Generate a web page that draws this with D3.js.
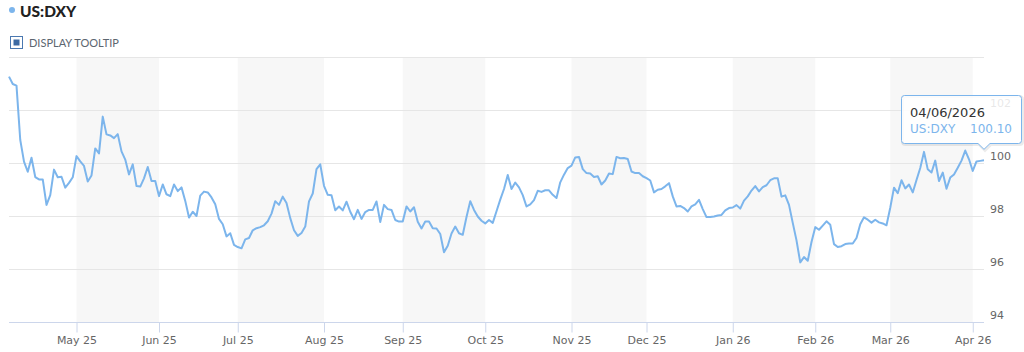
<!DOCTYPE html>
<html>
<head>
<meta charset="utf-8">
<script src="https://cdn.jsdelivr.net/npm/d3@7"></script>
<style>
  body { margin: 0; background: #fff; }
  svg { display: block; }
</style>
</head>
<body>
<svg id="chart" width="1024" height="352"></svg>
<script>
// daily closes, one array per month (weekdays from 7 Apr 2025)
const apr25 = [103.26, 102.98, 102.92, 100.87, 100.05, 99.67, 100.20, 99.47, 99.38, 99.38,
  98.42, 98.79, 99.75, 99.46, 99.48, 99.07, 99.25, 99.46];
const may25 = [100.26, 100.06, 99.89, 99.30, 99.53, 100.55, 100.36, 101.75, 101.08, 101.04,
  100.94, 101.09, 100.44, 100.13, 99.57, 99.95, 99.13, 99.11, 99.42, 99.85, 99.32, 99.32];
const jun25 = [98.75, 99.19, 98.82, 98.75, 99.19, 98.94, 99.08, 98.57, 97.94, 98.16,
  98.00, 98.77, 98.92, 98.89, 98.70, 98.44, 97.89, 97.69, 97.23, 97.35, 96.91];
const jul25 = [96.83, 96.78, 97.12, 97.17, 97.46, 97.54, 97.58, 97.65, 97.80, 98.09,
  98.56, 98.42, 98.73, 98.49, 97.92, 97.46, 97.25, 97.36, 97.60, 98.55, 98.85, 99.77, 99.95];
const aug25 = [99.14, 98.80, 98.78, 98.22, 98.36, 98.21, 98.54, 98.16, 97.88, 98.23,
  97.89, 98.15, 98.23, 98.23, 98.55, 97.77, 98.42, 98.26, 98.23, 97.85, 97.79];
const sep25 = [97.79, 98.36, 98.17, 98.33, 97.78, 97.53, 97.79, 97.79, 97.54, 97.53,
  97.32, 96.63, 96.88, 97.34, 97.60, 97.35, 97.29, 97.96, 98.56, 98.23, 97.98, 97.82];
const oct25 = [97.72, 97.85, 97.74, 98.18, 98.62, 99.02, 99.55, 99.02, 99.26, 99.08,
  98.79, 98.36, 98.44, 98.60, 98.95, 98.91, 98.97, 98.97, 98.80, 98.68, 99.27, 99.56, 99.81];
const nov25 = [99.90, 100.21, 100.23, 99.77, 99.62, 99.60, 99.47, 99.50, 99.19, 99.34,
  99.60, 99.58, 100.23, 100.18, 100.19, 100.15, 99.68, 99.62, 99.62, 99.50];
const dec25 = [99.43, 99.34, 98.89, 98.99, 99.02, 99.12, 99.24, 98.74, 98.36, 98.38,
  98.30, 98.17, 98.36, 98.44, 98.61, 98.26, 97.96, 97.96, 97.98, 98.02, 98.04, 98.21, 98.30];
const jan26 = [98.32, 98.41, 98.28, 98.58, 98.74, 98.96, 99.13, 98.93, 99.09, 99.16,
  99.35, 99.42, 99.42, 98.73, 98.78, 98.42, 97.74, 97.08, 96.25, 96.45, 96.31, 97.02];
const feb26 = [97.58, 97.48, 97.64, 97.80, 97.67, 96.94, 96.83, 96.86, 96.94, 96.96,
  96.96, 97.17, 97.69, 97.95, 97.86, 97.75, 97.86, 97.76, 97.72, 97.65];
const mar26 = [98.31, 99.07, 98.86, 99.35, 99.04, 99.19, 98.89, 99.36, 99.81, 100.42,
  99.76, 99.64, 100.09, 99.32, 99.64, 99.03, 99.45, 99.57, 99.82, 100.09, 100.47, 100.14];
const apr26 = [99.70, 100.06, 100.08, 100.10];

const seriesName = "US:DXY";
const firstDay = new Date(2025, 3, 7);
const yTicks = [94, 96, 98, 100, 102];
const gridValues = [96, 98, 100, 102, 104];
const monthLabels = ["May 25", "Jun 25", "Jul 25", "Aug 25", "Sep 25", "Oct 25",
  "Nov 25", "Dec 25", "Jan 26", "Feb 26", "Mar 26", "Apr 26"];
const shadedMonths = ["May 25", "Jul 25", "Sep 25", "Nov 25", "Jan 26", "Mar 26"];

const values = [].concat(apr25, may25, jun25, jul25, aug25, sep25, oct25,
  nov25, dec25, jan26, feb26, mar26, apr26);

// trading days (weekdays), the axis is ordinal so weekends take no room
const dates = [];
let day = new Date(firstDay);
while (dates.length < values.length) {
  if (day.getDay() !== 0 && day.getDay() !== 6) dates.push(new Date(day));
  day.setDate(day.getDate() + 1);
}
const data = values.map((v, i) => ({ i: i, date: dates[i], value: v }));

const fmtMonth = d3.timeFormat("%b %y");
const monthStarts = [];
data.forEach((p, i) => {
  if (i > 0 && p.date.getMonth() !== data[i - 1].date.getMonth()) {
    monthStarts.push({ i: i, label: fmtMonth(p.date) });
  }
});

const svg = d3.select("#chart");
const plotLeft = 9, plotRight = 984, plotTop = 57, plotBottom = 322;

const x = d3.scaleLinear().domain([0, data.length - 1]).range([plotLeft, plotRight]);
const y = d3.scaleLinear().domain([94, 104]).range([plotBottom, plotTop]);

// header
svg.append("circle").attr("cx", 12).attr("cy", 10).attr("r", 3).attr("fill", "#7cb5ec");
svg.append("text").attr("x", 20).attr("y", 16.5)
  .attr("font-family", "Lato").attr("font-weight", 900).attr("font-size", 15.5)
  .attr("fill", "#222").text(seriesName);

svg.append("rect").attr("x", 10.5).attr("y", 36.5).attr("width", 12).attr("height", 12)
  .attr("fill", "#fff").attr("stroke", "#4a78b0");
svg.append("rect").attr("x", 13.5).attr("y", 39.5).attr("width", 6).attr("height", 6)
  .attr("fill", "#3d6aa3");
svg.append("text").attr("x", 29).attr("y", 47)
  .attr("font-family", "Lato").attr("font-size", 11)
  .attr("fill", "#5c6670").text("DISPLAY TOOLTIP");

// alternating month bands
const bandData = monthStarts.map((m, k) => ({
  label: m.label,
  x0: x(m.i),
  x1: k + 1 < monthStarts.length ? x(monthStarts[k + 1].i) : plotRight
})).filter(b => shadedMonths.includes(b.label));

svg.append("g").selectAll("rect")
  .data(bandData)
  .enter()
  .append("rect")
  .attr("x", b => b.x0)
  .attr("y", plotTop)
  .attr("width", b => b.x1 - b.x0)
  .attr("height", plotBottom - plotTop)
  .attr("fill", "#f7f7f7");

// grid lines
svg.append("g").selectAll("line")
  .data(gridValues)
  .enter()
  .append("line")
  .attr("x1", plotLeft).attr("x2", plotRight)
  .attr("y1", v => Math.round(y(v)) + 0.5)
  .attr("y2", v => Math.round(y(v)) + 0.5)
  .attr("stroke", "#e6e6e6");

// x axis
const xAxis = d3.axisBottom(x)
  .tickValues(monthStarts.map(m => m.i))
  .tickFormat((v, k) => monthLabels[k])
  .tickSize(10)
  .tickPadding(4);

const gx = svg.append("g")
  .attr("transform", "translate(0," + (plotBottom + 0.5) + ")")
  .call(xAxis);
gx.select(".domain").attr("stroke", "#ccd6eb").attr("d", "M" + plotLeft + ",0H" + plotRight);
gx.selectAll(".tick line").attr("stroke", "#ccd6eb");
gx.selectAll(".tick text")
  .attr("font-family", "DejaVu Sans").attr("font-size", 11).attr("fill", "#666");

// y labels on the right
svg.append("g").selectAll("text")
  .data(yTicks)
  .enter()
  .append("text")
  .attr("x", 990)
  .attr("y", v => y(v) - 3)
  .attr("font-family", "DejaVu Sans").attr("font-size", 11).attr("fill", "#666")
  .text(v => v);

// the line
const line = d3.line()
  .x(p => x(p.i))
  .y(p => y(p.value));

svg.append("path")
  .datum(data)
  .attr("d", line)
  .attr("fill", "none")
  .attr("stroke", "#7cb5ec")
  .attr("stroke-width", 2)
  .attr("stroke-linejoin", "round");

// tooltip for the last point
const last = data[data.length - 1];
const px = x(last.i), py = y(last.value);
const bx = 901.5, by = 95.5, bw = 120, bh = 48, r = 3;
const tipY = py - 11;

const tip = svg.append("g");
const shape = "M" + (bx + r) + "," + by +
  "H" + (bx + bw - r) + "Q" + (bx + bw) + "," + by + " " + (bx + bw) + "," + (by + r) +
  "V" + (by + bh - r) + "Q" + (bx + bw) + "," + (by + bh) + " " + (bx + bw - r) + "," + (by + bh) +
  "H" + (px + 6) + "L" + px + "," + tipY + "L" + (px - 6) + "," + (by + bh) +
  "H" + (bx + r) + "Q" + bx + "," + (by + bh) + " " + bx + "," + (by + bh - r) +
  "V" + (by + r) + "Q" + bx + "," + by + " " + (bx + r) + "," + by + "Z";

tip.append("path").attr("d", shape)
  .attr("transform", "translate(1,1)")
  .attr("fill", "none").attr("stroke", "rgba(0,0,0,0.08)").attr("stroke-width", 3);
tip.append("path").attr("d", shape)
  .attr("fill", "rgba(255,255,255,0.85)")
  .attr("stroke", "#7cb5ec").attr("stroke-width", 1);

tip.append("text").attr("x", 910).attr("y", 117)
  .attr("font-family", "DejaVu Sans").attr("font-size", 13).attr("fill", "#333")
  .text(d3.timeFormat("%m/%d/%Y")(last.date));
tip.append("text").attr("x", 910).attr("y", 133)
  .attr("font-family", "DejaVu Sans").attr("font-size", 12).attr("fill", "#7cb5ec")
  .text(seriesName);
tip.append("text").attr("x", 1012).attr("y", 133).attr("text-anchor", "end")
  .attr("font-family", "DejaVu Sans").attr("font-size", 12).attr("fill", "#7cb5ec")
  .text(last.value.toFixed(2));
</script>
</body>
</html>
